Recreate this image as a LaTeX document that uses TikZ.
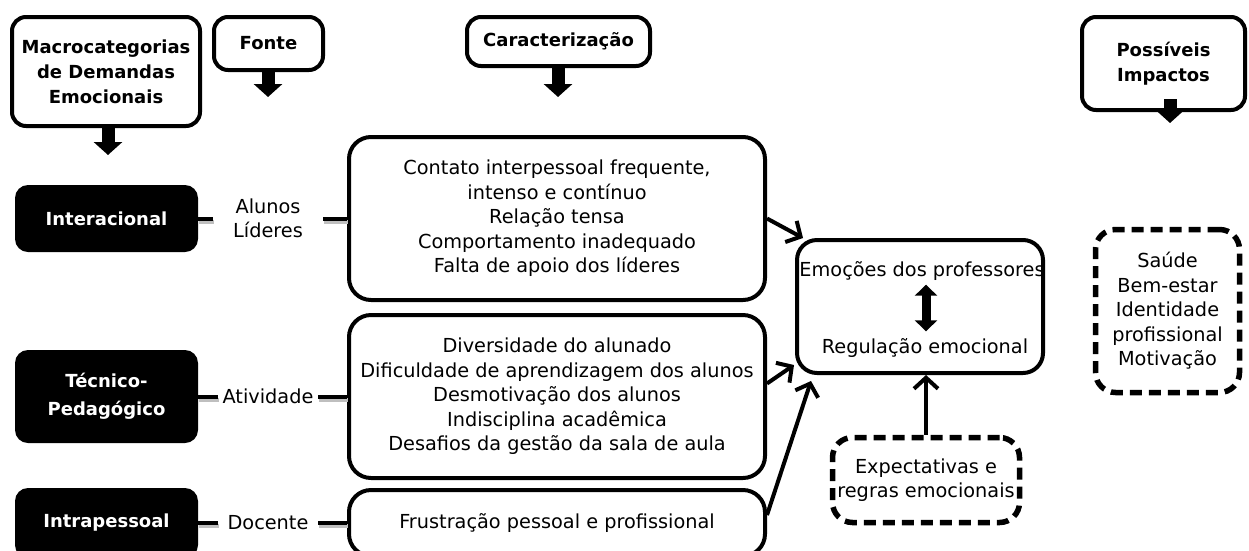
\documentclass[tikz,border=0pt]{standalone}
\usepackage{fontspec}
\setmainfont{DejaVu Sans}
\usetikzlibrary{arrows.meta,calc}
\newcommand\myreg{\fontsize{19.3}{24.5}\selectfont}
\newcommand\mybold{\fontsize{18}{25}\selectfont\bfseries}
\begin{document}
\begin{tikzpicture}[x=1pt,y=-1pt,
 hdr/.style={draw,line width=4pt,rounded corners=14pt,fill=white,font=\mybold,align=center,inner sep=0pt},
 cat/.style={fill=black,rounded corners=13pt,text=white,font=\mybold,align=center,inner sep=0pt,minimum width=183pt},
 cbox/.style={draw,line width=4pt,rounded corners=22pt,font=\myreg,align=center,inner sep=0pt,minimum width=416pt},
 dbox/.style={draw,line width=5.5pt,dash pattern=on 12pt off 7pt,rounded corners=20pt,font=\myreg,align=center,inner sep=0pt},
 lbl/.style={font=\myreg,align=center,inner sep=0pt},
 down/.style={line width=13pt,-{Triangle[length=13pt,width=28pt]}},
 dbl/.style={line width=9pt,{Triangle[length=11pt,width=22pt]}-{Triangle[length=11pt,width=22pt]}},
 conn/.style={line width=4pt,preaction={draw=black!25,line width=4pt,transform canvas={shift={(1pt,-3pt)}}}},
 arr/.style={line width=4pt,-{Straight Barb[length=11pt,width=24pt]}}
]
\useasboundingbox (0,0) rectangle (1249,550);
\clip (0,0) rectangle (1249,550);

% headers
\node[hdr,minimum width=188pt,minimum height=109pt] (mac) at (106,71.5) {Macrocategorias\\de Demandas\\Emocionais};
\node[hdr,minimum width=109pt,minimum height=53pt] (fon) at (268.5,43.5) {Fonte};
\node[hdr,minimum width=183pt,minimum height=49pt] (car) at (558.5,41.5) {Caracterização};
\node[hdr,minimum width=163pt,minimum height=93pt] (imp) at (1163.5,63.5) {Possíveis\\Impactos};

\coordinate (macd) at (108,155);
\coordinate (fond) at (268,97);
\coordinate (card) at (558,97);
\coordinate (impd) at (1170,123);
\draw[down] (mac.south -| macd) -- (macd);
\draw[down] (fon.south -| fond) -- (fond);
\draw[down] (car.south -| card) -- (card);
\draw[down] ($(imp.south -| impd)+(0,-13)$) -- (impd);

% categories
\node[cat,minimum height=67pt] (int) at (106.5,218.5) {Interacional};
\node[cat,minimum height=93pt] (tec) at (106.5,396.5) {Técnico-\\[3pt]Pedagógico};
\node[cat,minimum height=70pt] (intra) at (106.5,523) {Intrapessoal};

% characterization boxes
\node[cbox,minimum height=163pt] (c1) at (557,218.5) {Contato interpessoal frequente,\\intenso e contínuo\\Relação tensa\\Comportamento inadequado\\Falta de apoio dos líderes};
\node[cbox,minimum height=163pt] (c2) at (557,396.5) {Diversidade do alunado\\Dificuldade de aprendizagem dos alunos\\Desmotivação dos alunos\\Indisciplina acadêmica\\Desafios da gestão da sala de aula};
\node[cbox,minimum height=66pt] (c3) at (557,523) {Frustração pessoal e profissional};

% sources
\node[lbl,minimum width=110pt] (f1) at (268,218.5) {Alunos\\Líderes};
\node[lbl,minimum width=100pt] (f2) at (268,396.5) {Atividade};
\node[lbl,minimum width=100pt] (f3) at (268,523) {Docente};
\draw[conn] (int.east) -- (f1.west);
\draw[conn] (f1.east) -- (c1.west);
\draw[conn] (tec.east) -- (f2.west);
\draw[conn] (f2.east) -- (c2.west);
\draw[conn] (intra.east) -- (f3.west);
\draw[conn] (f3.east) -- (c3.west);

% central
\node[draw,line width=4pt,rounded corners=20pt,minimum width=246pt,minimum height=133pt,inner sep=0pt] (cen) at (920,306.5) {};
\node[lbl] (emo) at (922,271) {Emoções dos professores};
\node[lbl] (reg) at (925,348) {Regulação emocional};
\draw[dbl] ($(emo.south)+(4,4)$) -- ($(reg.north)+(1,-7)$);

\node[dbox,minimum width=187pt,minimum height=85pt] (exp) at (926,480) {Expectativas e\\regras emocionais};
\node[dbox,minimum width=144pt,minimum height=163pt] (sau) at (1167.5,311) {Saúde\\Bem-estar\\Identidade\\profissional\\Motivação};

% arrows
\draw[arr] (c1.east) -- ($(cen.north west)+(8,0)$);
\draw[arr] ($(c2.east)+(0,-13)$) -- ($(cen.south west)+(-1,-10)$);
\draw[arr] ($(c3.east)+(0,-8)$) -- ($(cen.south west)+(16,6)$);
\draw[arr] (exp.north) -- (exp.north |- cen.south);
\end{tikzpicture}
\end{document}
